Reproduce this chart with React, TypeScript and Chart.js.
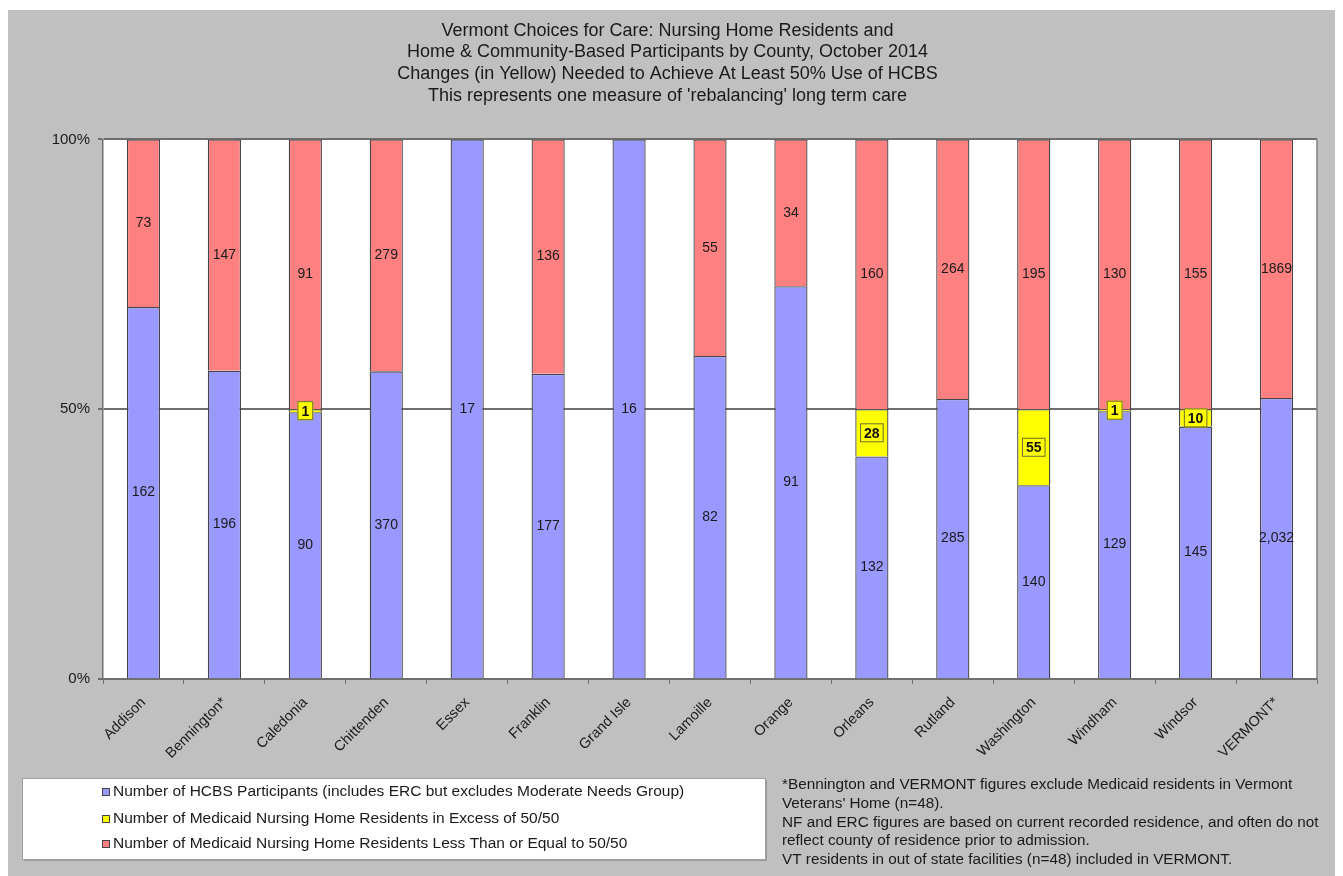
import React, { useEffect, useRef } from 'react';
import { Chart, registerables } from 'chart.js';

Chart.register(...registerables);

const FONT = '"Liberation Sans", Arial, Helvetica, sans-serif';

const categories = ['Addison', 'Bennington*', 'Caledonia', 'Chittenden', 'Essex', 'Franklin', 'Grand Isle', 'Lamoille', 'Orange', 'Orleans', 'Rutland', 'Washington', 'Windham', 'Windsor', 'VERMONT*'];
const hcbsParticipants = [162, 196, 90, 370, 17, 177, 16, 82, 91, 132, 285, 140, 129, 145, 2032];
const nhExcess = [0, 0, 1, 0, 0, 0, 0, 0, 0, 28, 0, 55, 1, 10, 0];
const nhLessEqual = [73, 147, 91, 279, 0, 136, 0, 55, 34, 160, 264, 195, 130, 155, 1869];

const yTicks = [0, 50, 100];

const titleLines = [
  'Vermont Choices for Care: Nursing Home Residents and',
  'Home & Community-Based Participants by County, October 2014',
  'Changes (in Yellow) Needed to Achieve At Least 50% Use of HCBS',
  "This represents one measure of 'rebalancing' long term care",
];

const seriesLabels = [
  'Number of HCBS Participants (includes ERC but excludes Moderate Needs Group)',
  'Number of Medicaid Nursing Home Residents in Excess of 50/50',
  'Number of Medicaid Nursing Home Residents Less Than or Equal to 50/50',
];

const footnoteLines = [
  '*Bennington and VERMONT figures exclude Medicaid residents in Vermont',
  "Veterans' Home (n=48).",
  'NF and ERC figures are based on current recorded residence, and often do not',
  'reflect county of residence prior to admission.',
  'VT residents in out of state facilities (n=48) included in VERMONT.',
];

const COLORS = ['#9999FF', '#FFFF00', '#FF8080'];
const rawSeries = [hcbsParticipants, nhExcess, nhLessEqual];

const totals = categories.map((_, i) => hcbsParticipants[i] + nhExcess[i] + nhLessEqual[i]);
const toPct = (arr: number[]) => arr.map((v, i) => (v / totals[i]) * 100);

const bgPlugin = {
  id: 'bgPlugin',
  beforeDraw(chart: any) {
    const { ctx, width, height, chartArea } = chart;
    ctx.save();
    ctx.fillStyle = '#C0C0C0';
    ctx.fillRect(0, 0, width, height);
    ctx.fillStyle = '#FFFFFF';
    ctx.fillRect(chartArea.left, chartArea.top, chartArea.right - chartArea.left, chartArea.bottom - chartArea.top);
    ctx.restore();
  },
  afterDraw(chart: any) {
    const { ctx, chartArea } = chart;
    ctx.save();
    ctx.strokeStyle = '#808080';
    ctx.lineWidth = 1.5;
    ctx.beginPath();
    ctx.moveTo(chartArea.right, chartArea.top);
    ctx.lineTo(chartArea.right, chartArea.bottom);
    ctx.stroke();
    ctx.restore();

    // legend box
    const lx = 14, ly = 768, lw = 743, lh = 81;
    ctx.save();
    ctx.fillStyle = '#9a9a9a';
    ctx.fillRect(lx + 2, ly + 2, lw, lh);
    ctx.fillStyle = '#FFFFFF';
    ctx.fillRect(lx, ly, lw, lh);
    ctx.strokeStyle = '#a0a0a0';
    ctx.lineWidth = 1;
    ctx.strokeRect(lx + 0.5, ly + 0.5, lw, lh);
    const rows = [782, 809, 834];
    ctx.font = `15.5px ${FONT}`;
    ctx.textBaseline = 'middle';
    ctx.textAlign = 'left';
    chart.data.datasets.forEach((ds: any, i: number) => {
      const y = rows[i];
      ctx.fillStyle = ds.backgroundColor;
      ctx.fillRect(94, y - 4, 8, 8);
      ctx.strokeStyle = '#444';
      ctx.lineWidth = 1;
      ctx.strokeRect(94.5, y - 3.5, 7, 7);
      ctx.fillStyle = '#1a1a1a';
      ctx.fillText(ds.label, 105, y);
    });

    // footnote
    const fy = [775, 794, 813, 831, 850];
    ctx.font = `15.3px ${FONT}`;
    ctx.fillStyle = '#1a1a1a';
    footnoteLines.forEach((t, i) => ctx.fillText(t, 774, fy[i]));
    ctx.restore();
  },
};

const labelPlugin = {
  id: 'labelPlugin',
  afterDatasetsDraw(chart: any) {
    const { ctx } = chart;
    ctx.save();
    ctx.textAlign = 'center';
    ctx.textBaseline = 'middle';
    chart.data.datasets.forEach((ds: any, di: number) => {
      const meta = chart.getDatasetMeta(di);
      meta.data.forEach((el: any, i: number) => {
        const v = rawSeries[di][i];
        if (!v) return;
        const cx = el.x;
        const cy = (el.y + el.base) / 2;
        if (di === 1) {
          const text = String(v);
          ctx.font = `bold 14px ${FONT}`;
          const w = ctx.measureText(text).width + 8;
          const h = 19;
          ctx.fillStyle = '#FFFF00';
          ctx.fillRect(cx - w / 2, cy - h / 2, w, h);
          ctx.strokeStyle = '#6b6b30';
          ctx.lineWidth = 1;
          ctx.strokeRect(cx - w / 2 + 0.5, cy - h / 2 + 0.5, w - 1, h - 1);
          ctx.fillStyle = '#111';
          ctx.fillText(text, cx, cy + 1);
        } else {
          const text = di === 0 ? v.toLocaleString('en-US') : String(v);
          ctx.font = `14px ${FONT}`;
          ctx.fillStyle = '#1a1a1a';
          ctx.fillText(text, cx, cy);
        }
      });
    });
    ctx.restore();
  },
};

export default function App() {
  const ref = useRef<HTMLCanvasElement>(null);
  useEffect(() => {
    const chart = new Chart(ref.current!, {
      type: 'bar',
      data: {
        labels: categories,
        datasets: rawSeries.map((arr, i) => ({
          label: seriesLabels[i],
          data: toPct(arr),
          backgroundColor: COLORS[i],
          borderColor: '#454545',
          borderWidth: 1.3,
          barPercentage: 0.41,
          categoryPercentage: 1,
        })),
      },
      options: {
        responsive: false,
        animation: false,
        events: [],
        layout: { padding: { left: 10, right: 21, top: 0, bottom: 100 } },
        plugins: {
          legend: { display: false },
          tooltip: { enabled: false },
          title: {
            display: true,
            text: titleLines,
            color: '#1a1a1a',
            font: { family: FONT, size: 18, weight: 'normal', lineHeight: 1.2 },
            padding: { top: 10, bottom: 33 },
          },
        },
        scales: {
          x: {
            stacked: true,
            afterFit: (s: any) => { s.height = 97; },
            grid: { display: true, drawOnChartArea: false, drawTicks: true, tickLength: 5, offset: true, color: '#707070' },
            border: { display: true, color: '#707070', width: 1.5 },
            ticks: {
              autoSkip: false,
              minRotation: 45,
              maxRotation: 45,
              color: '#1a1a1a',
              padding: 10,
              font: { family: FONT, size: 14.5 },
            },
          },
          y: {
            stacked: true,
            min: 0,
            max: 100,
            afterFit: (s: any) => { s.width = 85; },
            afterBuildTicks: (s: any) => { s.ticks = yTicks.map((v) => ({ value: v })); },
            grid: { color: '#6e6e6e', lineWidth: 2, tickLength: 5, drawTicks: true },
            border: { display: true, color: '#707070', width: 1.5 },
            ticks: {
              color: '#1a1a1a',
              padding: 8,
              font: { family: FONT, size: 15 },
              callback: (v: any) => `${v}%`,
            },
          },
        },
      },
      plugins: [bgPlugin, labelPlugin],
    } as any);
    return () => chart.destroy();
  }, []);
  return (
    <div style={{ paddingTop: 2 }}>
      <canvas ref={ref} width={1330} height={866} style={{ display: 'block' }} />
    </div>
  );
}
